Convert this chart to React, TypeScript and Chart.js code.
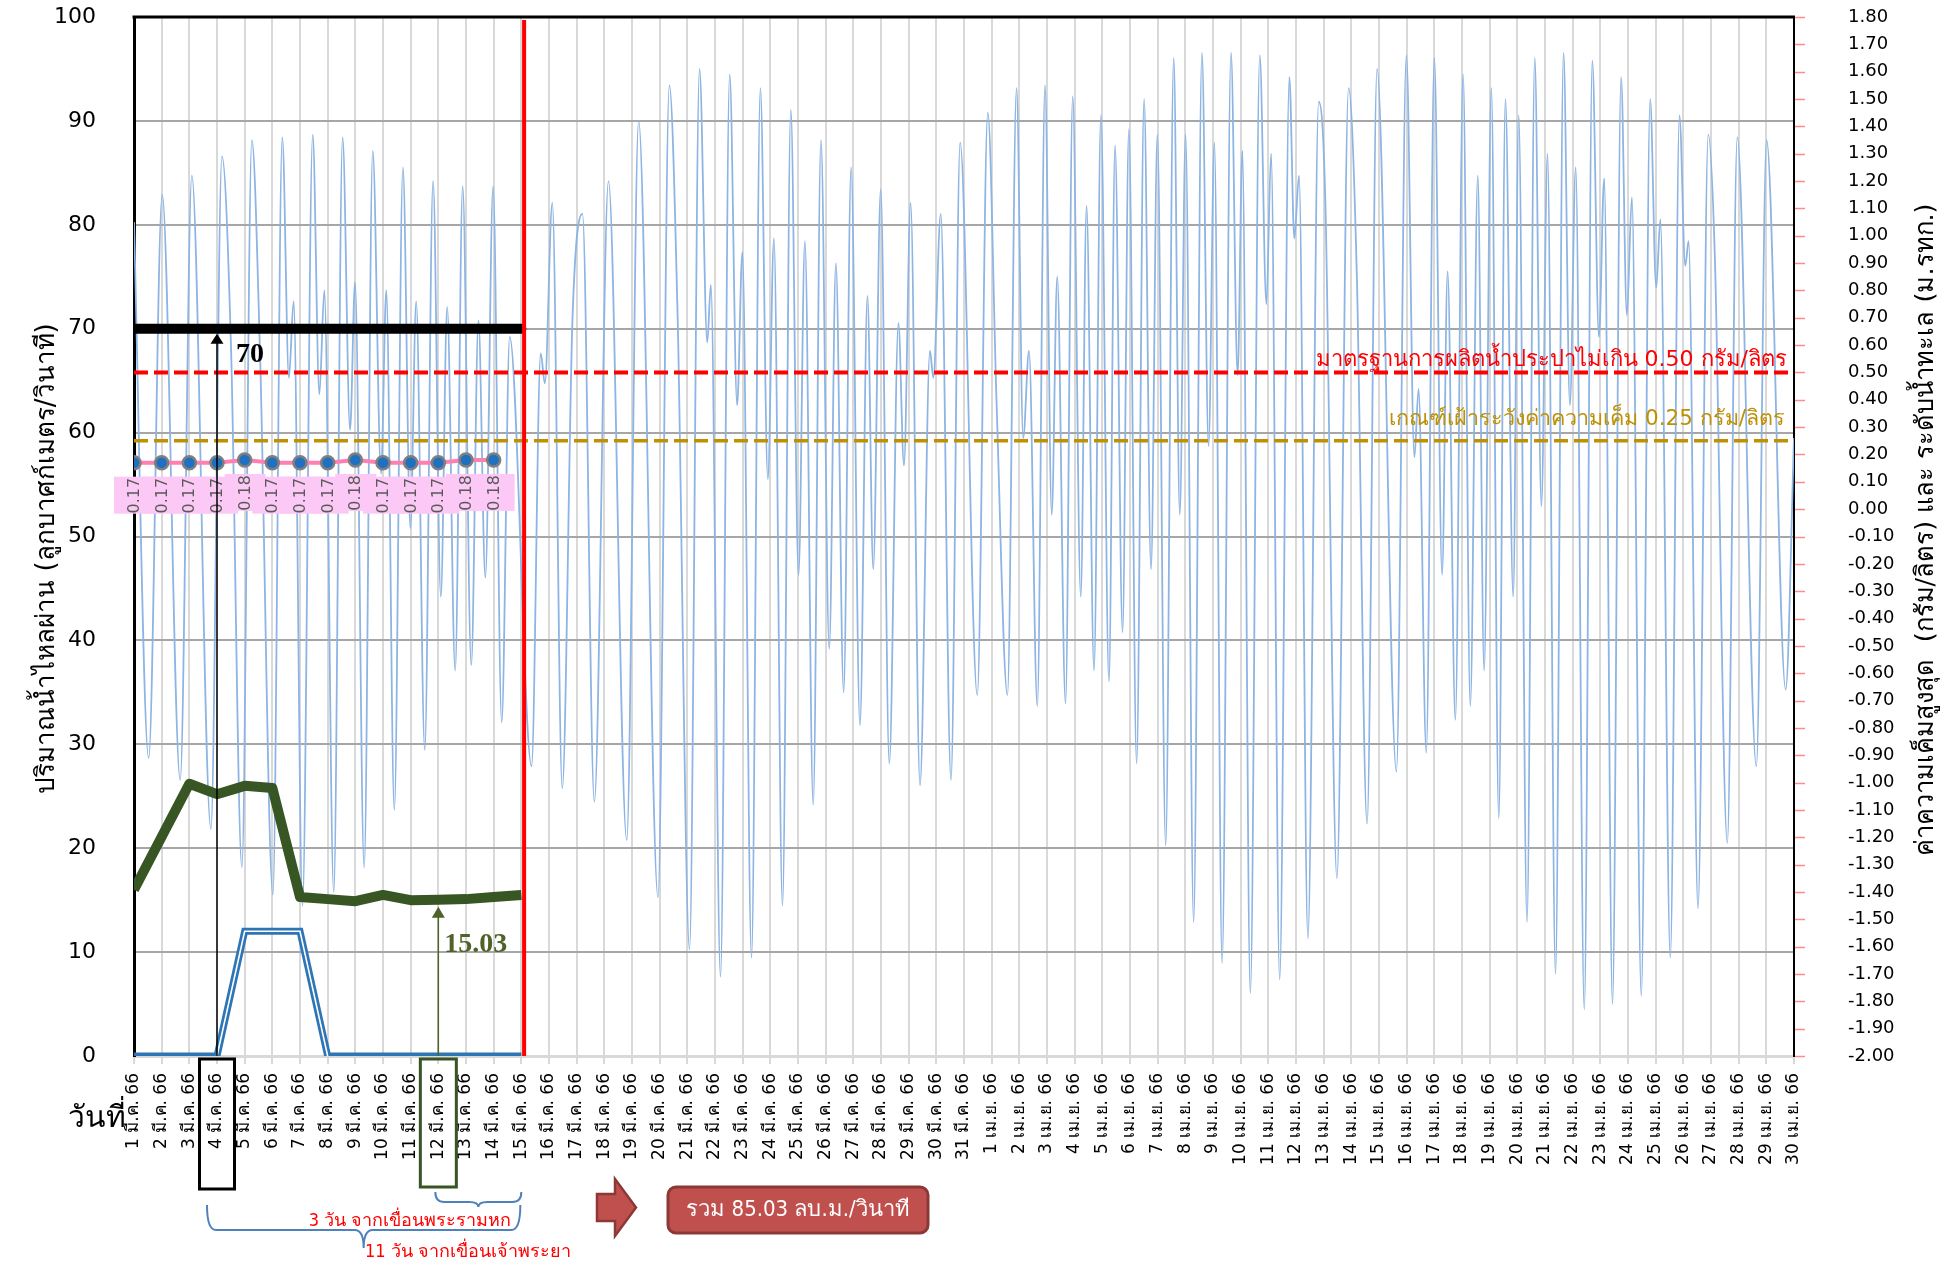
import React, { useEffect, useRef } from 'react';
import { Chart, registerables } from 'chart.js';

Chart.register(...registerables);

// ---------- data ----------
const DAY_LABELS = [
  '1 มี.ค. 66', '2 มี.ค. 66', '3 มี.ค. 66', '4 มี.ค. 66', '5 มี.ค. 66', '6 มี.ค. 66', '7 มี.ค. 66', '8 มี.ค. 66',
  '9 มี.ค. 66', '10 มี.ค. 66', '11 มี.ค. 66', '12 มี.ค. 66', '13 มี.ค. 66', '14 มี.ค. 66', '15 มี.ค. 66',
  '16 มี.ค. 66', '17 มี.ค. 66', '18 มี.ค. 66', '19 มี.ค. 66', '20 มี.ค. 66', '21 มี.ค. 66', '22 มี.ค. 66',
  '23 มี.ค. 66', '24 มี.ค. 66', '25 มี.ค. 66', '26 มี.ค. 66', '27 มี.ค. 66', '28 มี.ค. 66', '29 มี.ค. 66',
  '30 มี.ค. 66', '31 มี.ค. 66',
  '1 เม.ย. 66', '2 เม.ย. 66', '3 เม.ย. 66', '4 เม.ย. 66', '5 เม.ย. 66', '6 เม.ย. 66', '7 เม.ย. 66', '8 เม.ย. 66',
  '9 เม.ย. 66', '10 เม.ย. 66', '11 เม.ย. 66', '12 เม.ย. 66', '13 เม.ย. 66', '14 เม.ย. 66', '15 เม.ย. 66',
  '16 เม.ย. 66', '17 เม.ย. 66', '18 เม.ย. 66', '19 เม.ย. 66', '20 เม.ย. 66', '21 เม.ย. 66', '22 เม.ย. 66',
  '23 เม.ย. 66', '24 เม.ย. 66', '25 เม.ย. 66', '26 เม.ย. 66', '27 เม.ย. 66', '28 เม.ย. 66', '29 เม.ย. 66',
  '30 เม.ย. 66',
];

const SALINITY_MAX = [0.17, 0.17, 0.17, 0.17, 0.18, 0.17, 0.17, 0.17, 0.18, 0.17, 0.17, 0.17, 0.18, 0.18];
const FLOW_CHAO_PHRAYA = [16.0, 21.1, 26.2, 25.2, 26.0, 25.8, 15.3, 15.1, 14.9, 15.5, 15.0, 15.03, 15.1, 15.3, 15.5];
const FLOW_PHRA_RAM_6 = [0, 0, 0, 0, 12, 12, 12, 0, 0, 0, 0, 0, 0, 0, 0];
const FLOW_TARGET = 70;
const FLOW_TARGET_DAYS = [0, 14];
const SALINITY_STANDARD = 0.5;
const SALINITY_WATCH = 0.25;
const FORECAST_BOUNDARY_DAY = 14.1;
const ARROW_TARGET_DAY = 3;
const ARROW_CHAO_PHRAYA_DAY = 11;
const CHAO_PHRAYA_ARRIVAL = 15.03;
const TOTAL_FLOW_TEXT = 'รวม 85.03 ลบ.ม./วินาที';

const TIDE_DAY = [
  0, 0.53, 1.02, 1.67, 2.09, 2.78, 3.18, 3.51, 3.90, 4.26, 4.56, 5.02, 5.36, 5.60, 5.77, 6.09, 6.46, 6.70, 6.88,
  7.22, 7.54, 7.81, 7.99, 8.32, 8.63, 8.93, 9.12, 9.41, 9.72, 9.99, 10.20, 10.51, 10.81, 11.09, 11.32, 11.61,
  11.88, 12.19, 12.45, 12.70, 12.98, 13.29, 13.58, 14.37, 14.70, 14.85, 15.12, 15.48, 15.85, 16.21, 16.64, 17.15,
  17.81, 18.24, 18.94, 19.35, 19.65, 20.08, 20.44, 20.72, 20.85, 21.20, 21.53, 21.80, 21.99, 22.32, 22.64, 22.91,
  23.13, 23.44, 23.74, 24.02, 24.25, 24.55, 24.83, 25.13, 25.37, 25.65, 25.92, 26.24, 26.51, 26.72, 26.99, 27.30,
  27.63, 27.83, 28.07, 28.41, 28.77, 28.89, 29.16, 29.53, 29.86, 30.48, 30.86, 31.18, 31.57, 31.90, 32.14, 32.35,
  32.65, 32.93, 33.17, 33.37, 33.67, 33.93, 34.22, 34.43, 34.70, 34.95, 35.24, 35.46, 35.73, 35.96, 36.24, 36.51,
  36.76, 36.99, 37.29, 37.58, 37.80, 38.01, 38.30, 38.60, 38.84, 39.05, 39.33, 39.65, 39.89, 40.06, 40.35, 40.69,
  40.93, 41.10, 41.41, 41.76, 41.94, 42.11, 42.43, 42.82, 43.06, 43.48, 43.90, 44.20, 44.57, 44.93, 45.63, 45.99,
  46.28, 46.43, 46.71, 47.00, 47.28, 47.48, 47.76, 48.04, 48.30, 48.57, 48.80, 49.06, 49.33, 49.57, 49.85, 50.05,
  50.35, 50.63, 50.87, 51.09, 51.38, 51.67, 51.90, 52.11, 52.42, 52.71, 52.95, 53.14, 53.44, 53.75, 53.96, 54.14,
  54.48, 54.80, 55.02, 55.17, 55.53, 55.86, 56.07, 56.19, 56.53, 56.90, 57.14, 57.59, 57.95, 58.64, 59.01, 59.70,
  60.00,
];
const TIDE_LEVEL = [
  1.05, -0.91, 1.15, -0.99, 1.22, -1.17, 1.29, 0.58, -1.31, 1.35, 0.55, -1.41, 1.36, 0.48, 0.76, -1.45, 1.37, 0.42, 0.80,
  -1.40, 1.36, 0.29, 0.83, -1.31, 1.31, 0.13, 0.80, -1.10, 1.25, -0.07, 0.76, -0.88, 1.20, -0.32, 0.74, -0.59,
  1.18, -0.57, 0.69, -0.25, 1.18, -0.78, 0.63, -0.94, 0.57, 0.46, 1.12, -1.02, 0.70, 1.08, -1.07, 1.20,
  -1.21, 1.42, -1.42, 1.55, 0.70, -1.61, 1.61, 0.61, 0.82, -1.71, 1.59, 0.38, 0.94, -1.64, 1.54, 0.11,
  0.99, -1.45, 1.46, -0.24, 0.98, -1.08, 1.35, -0.51, 0.90, -0.67, 1.25, -0.79, 0.78, -0.22, 1.17, -0.93,
  0.68, 0.16, 1.12, -1.01, 0.58, 0.48, 1.08, -0.99, 1.34, -0.68, 1.45, 0.38, -0.68, 1.54, 0.26, 0.58,
  -0.72, 1.55, -0.02, 0.85, -0.71, 1.51, -0.32, 1.11, -0.59, 1.44, -0.63, 1.33, -0.45, 1.39, -0.93, 1.50,
  -0.22, 1.37, -1.23, 1.65, -0.02, 1.37, -1.51, 1.67, 0.23, 1.34, -1.66, 1.67, 0.49, 1.31, -1.77, 1.66,
  0.75, 1.30, -1.72, 1.58, 0.99, 1.22, -1.57, 1.49, 1.13, -1.35, 1.54, 0.85, -1.15, 1.61, -0.96, 1.66,
  0.19, 0.44, -0.89, 1.65, -0.24, 0.87, -0.77, 1.59, -0.72, 1.22, -0.59, 1.54, -1.13, 1.50, -0.32, 1.44,
  -1.51, 1.65, 0.01, 1.30, -1.70, 1.67, 0.38, 1.25, -1.83, 1.64, 0.63, 1.21, -1.81, 1.58, 0.71, 1.14,
  -1.78, 1.50, 0.81, 1.06, -1.64, 1.44, 0.89, 0.98, -1.46, 1.37, 0.92, -1.22, 1.36, -0.94, 1.35, -0.66,
  0.26,
];

// ---------- styling ----------
const TICK_FONT = "'DejaVu Sans', sans-serif";
const THAI_FONT = "'DejaVu Sans', sans-serif";
const NARROW_FONT = "'DejaVu Sans Condensed', 'DejaVu Sans', sans-serif";
const SERIF_FONT = "'Liberation Serif', 'Times New Roman', serif";
const CLEAR = 'rgba(0,0,0,0)';

function arrowUp(ctx: CanvasRenderingContext2D, x: number, yFrom: number, yTip: number, color: string, lw: number, headW: number, headH: number) {
  ctx.save();
  ctx.strokeStyle = color;
  ctx.fillStyle = color;
  ctx.lineWidth = lw;
  ctx.beginPath();
  ctx.moveTo(x, yFrom);
  ctx.lineTo(x, yTip + headH - 1);
  ctx.stroke();
  ctx.beginPath();
  ctx.moveTo(x, yTip);
  ctx.lineTo(x - headW / 2, yTip + headH);
  ctx.lineTo(x + headW / 2, yTip + headH);
  ctx.closePath();
  ctx.fill();
  ctx.restore();
}

function brace(ctx: CanvasRenderingContext2D, x1: number, x2: number, yTop: number, yMid: number, yTip: number) {
  const xm = (x1 + x2) / 2;
  const r = Math.min(9, (x2 - x1) / 8);
  ctx.beginPath();
  ctx.moveTo(x1, yTop);
  ctx.quadraticCurveTo(x1, yMid, x1 + r, yMid);
  ctx.lineTo(xm - r, yMid);
  ctx.quadraticCurveTo(xm, yMid, xm, yTip);
  ctx.quadraticCurveTo(xm, yMid, xm + r, yMid);
  ctx.lineTo(x2 - r, yMid);
  ctx.quadraticCurveTo(x2, yMid, x2, yTop);
  ctx.stroke();
}

function rotatedText(ctx: CanvasRenderingContext2D, text: string, x: number, y: number, font: string, color: string, align: CanvasTextAlign = 'center', baseline: CanvasTextBaseline = 'alphabetic') {
  ctx.save();
  ctx.translate(x, y);
  ctx.rotate(-Math.PI / 2);
  ctx.font = font;
  ctx.fillStyle = color;
  ctx.textAlign = align;
  ctx.textBaseline = baseline;
  ctx.fillText(text, 0, 0);
  ctx.restore();
}

const overlayPlugin = {
  id: 'overlay',
  beforeDraw(chart: any) {
    const ctx = chart.ctx;
    ctx.save();
    ctx.fillStyle = '#ffffff';
    ctx.fillRect(0, 0, chart.width, chart.height);
    ctx.restore();
  },
  afterDatasetsDraw(chart: any) {
    const ctx: CanvasRenderingContext2D = chart.ctx;
    const a = chart.chartArea;
    const { x, y, yR } = chart.scales;

    // forecast boundary (red vertical line)
    ctx.save();
    ctx.strokeStyle = '#FF0000';
    ctx.lineWidth = 4;
    ctx.beginPath();
    const rx = x.getPixelForValue(FORECAST_BOUNDARY_DAY);
    ctx.moveTo(rx, a.top + 3);
    ctx.lineTo(rx, a.bottom);
    ctx.stroke();
    ctx.restore();

    // threshold captions
    ctx.save();
    ctx.textAlign = 'right';
    ctx.textBaseline = 'alphabetic';
    ctx.font = `22px ${THAI_FONT}`;
    ctx.fillStyle = '#FF0000';
    ctx.fillText('มาตรฐานการผลิตน้ำประปาไม่เกิน 0.50 กรัม/ลิตร', a.right - 7, yR.getPixelForValue(SALINITY_STANDARD) - 6);
    ctx.font = `21.5px ${THAI_FONT}`;
    ctx.fillStyle = '#BF9000';
    ctx.fillText('เกณฑ์เฝ้าระวังค่าความเค็ม 0.25 กรัม/ลิตร', a.right - 9, yR.getPixelForValue(SALINITY_WATCH) - 16);
    ctx.restore();

    // salinity data labels
    ctx.save();
    ctx.fillStyle = '#FCC9F6';
    SALINITY_MAX.forEach((v, i) => {
      const px = x.getPixelForValue(i);
      const py = yR.getPixelForValue(v);
      ctx.fillRect(px - 20, py + 14, 41, 37);
    });
    SALINITY_MAX.forEach((v, i) => {
      const px = x.getPixelForValue(i);
      const py = yR.getPixelForValue(v);
      rotatedText(ctx, v.toFixed(2), px + 1, py + 14 + 19, `16px ${TICK_FONT}`, '#595959', 'center', 'middle');
    });
    ctx.restore();

    // arrows and value labels
    const ax = x.getPixelForValue(ARROW_TARGET_DAY);
    const ay = y.getPixelForValue(FLOW_TARGET);
    arrowUp(ctx, ax, a.bottom, ay + 5, '#000000', 1.5, 13, 10);
    const gx = x.getPixelForValue(ARROW_CHAO_PHRAYA_DAY);
    const gy = y.getPixelForValue(CHAO_PHRAYA_ARRIVAL);
    arrowUp(ctx, gx, a.bottom, gy + 7, '#4F6228', 1.5, 13, 11);
    ctx.save();
    ctx.font = `bold 28px ${SERIF_FONT}`;
    ctx.textAlign = 'left';
    ctx.fillStyle = '#000000';
    ctx.fillText(String(FLOW_TARGET), ax + 19, ay + 33);
    ctx.fillStyle = '#4F6228';
    ctx.fillText(CHAO_PHRAYA_ARRIVAL.toFixed(2), gx + 6, gy + 52);
    ctx.restore();
  },
  afterDraw(chart: any) {
    const ctx: CanvasRenderingContext2D = chart.ctx;
    const a = chart.chartArea;
    const { x, yR } = chart.scales;

    // top border of plot
    ctx.save();
    ctx.strokeStyle = '#000000';
    ctx.lineWidth = 3;
    ctx.beginPath();
    ctx.moveTo(a.left - 1.5, a.top);
    ctx.lineTo(a.right + 1, a.top);
    ctx.stroke();

    // pink tick marks on the right axis
    ctx.strokeStyle = '#FF8C8C';
    ctx.lineWidth = 1.5;
    ctx.beginPath();
    yR.ticks.forEach((t: any) => {
      const py = Math.round(yR.getPixelForValue(t.value)) + 0.5;
      ctx.moveTo(a.right + 1, py);
      ctx.lineTo(a.right + 11, py);
    });
    ctx.stroke();
    ctx.restore();

    // axis titles
    rotatedText(ctx, 'ปริมาณน้ำไหลผ่าน (ลูกบาศก์เมตร/วินาที)', 54, (a.top + a.bottom) / 2 + 22, `26px ${THAI_FONT}`, '#000000');
    rotatedText(ctx, 'ค่าความเค็มสูงสุด  (กรัม/ลิตร) และ ระดับน้ำทะเล (ม.รทก.)', 1933, (a.top + a.bottom) / 2 - 7, `25.5px ${THAI_FONT}`, '#000000');

    ctx.save();
    ctx.font = `30px ${THAI_FONT}`;
    ctx.fillStyle = '#000000';
    ctx.textAlign = 'left';
    ctx.fillText('วันที่', 68, 1127);
    ctx.restore();

    // highlight boxes on date labels
    ctx.save();
    ctx.lineWidth = 3;
    ctx.strokeStyle = '#000000';
    const bx = x.getPixelForValue(ARROW_TARGET_DAY);
    ctx.strokeRect(bx - 17.5, 1059, 35, 130);
    ctx.strokeStyle = '#375623';
    const gx = x.getPixelForValue(ARROW_CHAO_PHRAYA_DAY);
    ctx.strokeRect(gx - 18, 1059, 36, 128);
    ctx.restore();

    // braces
    ctx.save();
    ctx.strokeStyle = '#4F81BD';
    ctx.lineWidth = 2;
    const endX = x.getPixelForValue(FORECAST_BOUNDARY_DAY - 0.1);
    brace(ctx, gx - 3, endX, 1192, 1202, 1207);
    brace(ctx, bx - 10, endX - 1, 1205, 1230, 1248);
    ctx.restore();

    ctx.save();
    ctx.font = `18px ${NARROW_FONT}`;
    ctx.fillStyle = '#FF0000';
    ctx.textAlign = 'right';
    ctx.fillText('3 วัน จากเขื่อนพระรามหก', endX - 10, 1226);
    ctx.textAlign = 'left';
    ctx.fillText('11 วัน จากเขื่อนเจ้าพระยา', 365, 1257);
    ctx.restore();

    // block arrow
    ctx.save();
    ctx.fillStyle = '#C0504D';
    ctx.strokeStyle = '#8C3836';
    ctx.lineWidth = 2.5;
    ctx.beginPath();
    ctx.moveTo(597, 1194);
    ctx.lineTo(615, 1194);
    ctx.lineTo(615, 1179);
    ctx.lineTo(636, 1207.5);
    ctx.lineTo(615, 1236);
    ctx.lineTo(615, 1221);
    ctx.lineTo(597, 1221);
    ctx.closePath();
    ctx.fill();
    ctx.stroke();

    // total box
    ctx.beginPath();
    (ctx as any).roundRect(668, 1187, 260, 46, 8);
    ctx.fill();
    ctx.lineWidth = 3;
    ctx.stroke();
    ctx.font = `22px ${NARROW_FONT}`;
    ctx.fillStyle = '#ffffff';
    ctx.textAlign = 'center';
    ctx.textBaseline = 'middle';
    ctx.fillText(TOTAL_FLOW_TEXT, 798, 1210);
    ctx.restore();
  },
};

export default function App() {
  const canvasRef = useRef<HTMLCanvasElement | null>(null);

  useEffect(() => {
    const canvas = canvasRef.current;
    if (!canvas) return;

    const innerBlue = FLOW_PHRA_RAM_6.map((v, i) =>
      v > 0 || (FLOW_PHRA_RAM_6[i - 1] ?? 0) > 0 || (FLOW_PHRA_RAM_6[i + 1] ?? 0) > 0 ? { x: i, y: v } : { x: i, y: null }
    );

    const chart = new Chart(canvas, {
      type: 'line',
      data: {
        datasets: [
          {
            label: 'ระดับน้ำทะเล',
            data: TIDE_DAY.map((d, i) => ({ x: d, y: TIDE_LEVEL[i] })),
            yAxisID: 'yR',
            borderColor: '#8DB4E2',
            borderWidth: 1.8,
            pointRadius: 0,
            cubicInterpolationMode: 'monotone',
            order: 10,
          },
          {
            label: 'เกณฑ์เฝ้าระวัง',
            data: [{ x: 0, y: SALINITY_WATCH }, { x: 60, y: SALINITY_WATCH }],
            yAxisID: 'yR',
            borderColor: '#C09000',
            borderWidth: 3.5,
            borderDash: [14, 6],
            pointRadius: 0,
            order: 9,
          },
          {
            label: 'มาตรฐาน',
            data: [{ x: 0, y: SALINITY_STANDARD }, { x: 60, y: SALINITY_STANDARD }],
            yAxisID: 'yR',
            borderColor: '#FF0000',
            borderWidth: 4,
            borderDash: [14, 6],
            pointRadius: 0,
            order: 8,
          },
          {
            label: 'เขื่อนพระรามหก',
            data: FLOW_PHRA_RAM_6.map((v, i) => ({ x: i, y: v })),
            yAxisID: 'y',
            borderColor: '#2E75B6',
            borderWidth: 7,
            pointRadius: 0,
            order: 7,
          },
          {
            label: 'เขื่อนพระรามหก (inner)',
            data: innerBlue,
            yAxisID: 'y',
            borderColor: '#ffffff',
            borderWidth: 1.6,
            pointRadius: 0,
            spanGaps: false,
            order: 6,
          },
          {
            label: 'เขื่อนเจ้าพระยา',
            data: FLOW_CHAO_PHRAYA.map((v, i) => ({ x: i, y: v })),
            yAxisID: 'y',
            borderColor: '#375623',
            borderWidth: 10,
            borderJoinStyle: 'round',
            pointRadius: 0,
            order: 5,
          },
          {
            label: 'เป้าหมาย',
            data: FLOW_TARGET_DAYS.map((d) => ({ x: d, y: FLOW_TARGET })),
            yAxisID: 'y',
            borderColor: '#000000',
            borderWidth: 10,
            borderCapStyle: 'round',
            pointRadius: 0,
            order: 4,
          },
          {
            label: 'ความเค็ม',
            data: SALINITY_MAX.map((v, i) => ({ x: i, y: v })),
            yAxisID: 'yR',
            borderColor: '#FF7FB0',
            borderWidth: 4,
            pointRadius: 6.5,
            pointBackgroundColor: '#1F70C1',
            pointBorderColor: '#7F7F7F',
            pointBorderWidth: 2.5,
            order: 3,
          },
        ] as any,
      },
      options: {
        responsive: false,
        animation: false,
        devicePixelRatio: 1,
        layout: { padding: { top: 17, left: 0, right: 0, bottom: 0 }, autoPadding: false },
        plugins: { legend: { display: false }, tooltip: { enabled: false } },
        scales: {
          x: {
            type: 'linear',
            position: 'bottom',
            min: 0,
            max: 60,
            afterFit: (s: any) => { s.height = 205; },
            ticks: {
              stepSize: 1,
              autoSkip: false,
              minRotation: 90,
              maxRotation: 90,
              padding: 9,
              color: '#000000',
              font: { family: TICK_FONT, size: 17 },
              callback: (v: any) => DAY_LABELS[Math.round(Number(v))] ?? '',
            },
            grid: { color: '#D9D9D9', lineWidth: 2, tickLength: 8, tickColor: '#D9D9D9' },
            border: { color: '#D9D9D9', width: 3 },
          },
          y: {
            type: 'linear',
            position: 'left',
            min: 0,
            max: 100,
            afterFit: (s: any) => { s.width = 134; },
            ticks: { stepSize: 10, padding: 2, color: '#000000', font: { family: TICK_FONT, size: 22 } },
            grid: {
              color: (c: any) => (c.tick && (c.tick.value === 0 || c.tick.value === 100) ? CLEAR : '#A6A6A6'),
              lineWidth: 2,
              drawTicks: true,
              tickLength: 36,
              tickColor: CLEAR,
            },
            border: { color: '#000000', width: 3 },
          },
          yR: {
            type: 'linear',
            position: 'right',
            min: -2,
            max: 1.8,
            afterFit: (s: any) => { s.width = 147; },
            ticks: {
              stepSize: 0.1,
              padding: 0,
              color: '#000000',
              font: { family: TICK_FONT, size: 18 },
              callback: (v: any) => (Math.abs(Number(v)) < 1e-9 ? '0.00' : Number(v).toFixed(2)),
            },
            grid: { drawOnChartArea: false, drawTicks: true, tickLength: 54, tickColor: CLEAR },
            border: { color: '#000000', width: 2 },
          },
        },
      } as any,
      plugins: [overlayPlugin],
    });

    return () => chart.destroy();
  }, []);

  return (
    <canvas
      ref={canvasRef}
      width={1941}
      height={1261}
      style={{ position: 'absolute', left: 0, top: 0, width: 1941, height: 1261 }}
    />
  );
}
